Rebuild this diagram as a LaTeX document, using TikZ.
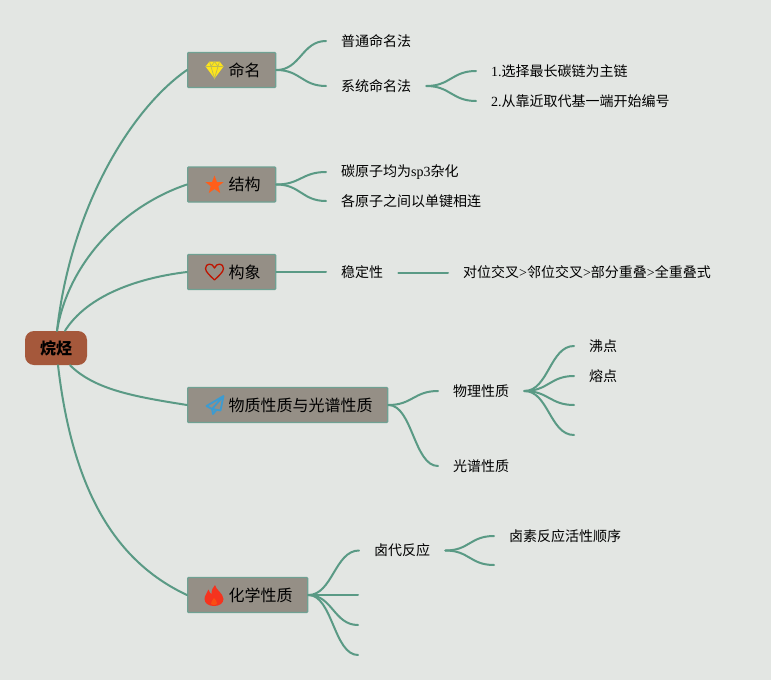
\documentclass[tikz,border=0pt]{standalone}
\usepackage{fontspec}
\setmainfont{Noto Sans CJK SC}
\newfontfamily\lat{Liberation Serif}
\definecolor{bgc}{HTML}{E3E6E3}
\definecolor{boxc}{HTML}{958F86}
\definecolor{edgec}{HTML}{6FA193}
\definecolor{linec}{HTML}{5A9A85}
\definecolor{rootc}{HTML}{A5583B}
\definecolor{planec}{HTML}{3D9BD0}
\definecolor{flamec}{HTML}{F5331E}
\tikzset{
  x=1pt,y=-1pt,
  rootbox/.style={fill=rootc,rounded corners=9pt,minimum width=62pt,minimum height=34pt,inner sep=0pt,font=\fontsize{16}{16}\selectfont\bfseries,text=black},
  mainbox/.style={draw=edgec,line width=1.4pt,fill=boxc,rounded corners=1pt,minimum height=35pt,inner xsep=15pt,inner ysep=0pt,anchor=west,font=\fontsize{16}{16}\selectfont,text=black},
  leaf/.style={anchor=west,inner xsep=15pt,inner ysep=0pt,font=\fontsize{14}{14}\selectfont,text=black},
  link/.style={draw=linec,line width=2pt,line cap=round},
}
\newcommand{\gap}{\hspace*{26pt}}
\newcommand{\fork}[2]{\draw[link] (#1.east) .. controls +(24,0) and +(-24,0) .. (#2);}
\begin{document}
\begin{tikzpicture}
\useasboundingbox[fill=bgc] (0,0) rectangle (771,680);
% root and main boxes
\node[rootbox] (root) at (56,348) {烷烃};
\node[mainbox] (ming) at (187,70) {\gap 命名};
\node[mainbox] (jie) at (187,184.5) {\gap 结构};
\node[mainbox] (gou) at (187,272) {\gap 构象};
\node[mainbox] (wu) at (187,405) {\gap 物质性质与光谱性质};
\node[mainbox] (hua) at (187,595) {\gap 化学性质};
% leaves
\node[leaf] (pt) at (326,41) {普通命名法};
\node[leaf] (xt) at (326,86) {系统命名法};
\node[leaf] (x1) at (476,71) {{\lat 1.}选择最长碳链为主链};
\node[leaf] (x2) at (476,101) {{\lat 2.}从靠近取代基一端开始编号};
\node[leaf] (tan) at (326,172) {碳原子均为{\lat sp3}杂化};
\node[leaf] (ge) at (326,201) {各原子之间以单键相连};
\node[leaf] (wd) at (326,272.5) {稳定性};
\node[leaf] (dw) at (448,272.5) {对位交叉{\lat >}邻位交叉{\lat >}部分重叠{\lat >}全重叠式};
\node[leaf] (wl) at (438,391) {物理性质};
\node[leaf] (gp) at (438,466) {光谱性质};
\node[leaf] (fei) at (574,346) {沸点};
\node[leaf] (rong) at (574,376) {熔点};
\coordinate (e1) at (574,405);
\coordinate (e2) at (574,435);
\node[leaf] (ld) at (359,550.5) {卤代反应};
\node[leaf] (ls) at (494,536) {卤素反应活性顺序};
\coordinate (e3) at (494,565);
\coordinate (e4) at (358,595);
\coordinate (e5) at (358,625);
\coordinate (e6) at (358,655);
% root links
\draw[link] ([xshift=1pt]root.north) .. controls +(14,-125) and +(-55,38) .. (ming.west);
\draw[link] ([xshift=1pt]root.north) .. controls +(12,-72) and +(-60,20) .. (jie.west);
\draw[link] ([xshift=9pt]root.north) .. controls +(22,-35) and +(-50,6) .. (gou.west);
\draw[link] ([xshift=14pt]root.south) .. controls +(25,25) and +(-50,-8) .. (wu.west);
\draw[link] ([xshift=2pt]root.south) .. controls +(14,120) and +(-75,-35) .. (hua.west);
% forks
\fork{ming}{pt.west}
\fork{ming}{xt.west}
\fork{xt}{x1.west}
\fork{xt}{x2.west}
\fork{jie}{tan.west}
\fork{jie}{ge.west}
\draw[link] (gou.east) -- (wd.west |- gou.east);
\draw[link] (wd.east) -- (dw.west);
\fork{wu}{wl.west}
\fork{wu}{gp.west}
\fork{wl}{fei.west}
\fork{wl}{rong.west}
\fork{wl}{e1}
\fork{wl}{e2}
\fork{ld}{ls.west}
\fork{ld}{e3}
\fork{hua}{ld.west}
\draw[link] (hua.east) -- (e4);
\fork{hua}{e5}
\fork{hua}{e6}
% icons
\begin{scope}[shift={(214.5,70)}]
  \fill[yellow!85!orange!90!white] (-5,-8.5) -- (5,-8.5) -- (9,-3.5) -- (0,8.5) -- (-9,-3.5) -- cycle;
  \draw[boxc!60!yellow,line width=.7pt] (-9,-3.5) -- (9,-3.5) (-5,-8.5) -- (-3.5,-3.5) -- (0,8.5) -- (3.5,-3.5) -- (5,-8.5) (-3.5,-3.5) -- (0,-8.5) -- (3.5,-3.5);
\end{scope}
\begin{scope}[shift={(214.5,185)}]
  \fill[orange!60!red!90!white] (0,-9.5) -- (2.4,-3) -- (9.2,-3) -- (3.8,1.2) -- (5.7,8) -- (0,4) -- (-5.7,8) -- (-3.8,1.2) -- (-9.2,-3) -- (-2.4,-3) -- cycle;
\end{scope}
\begin{scope}[shift={(214.5,272)}]
  \draw[red!70!black!85!orange,line width=1.3pt,line join=round] (0,8) .. controls (-4,4) and (-9,0) .. (-9,-3.5) .. controls (-9,-9) and (-2,-9.5) .. (0,-4) .. controls (2,-9.5) and (9,-9) .. (9,-3.5) .. controls (9,0) and (4,4) .. (0,8) -- cycle;
\end{scope}
\begin{scope}[shift={(215,405)}]
  \draw[planec,line width=1.8pt,line join=round] (8.5,-9) -- (-8.5,1) -- (-3,4) -- (5.5,5.5) -- cycle (8.5,-9) -- (-3,4) -- (-2,9) -- (1.5,4.8);
\end{scope}
\begin{scope}[shift={(214,596)}]
  \fill[flamec] (1,-11) .. controls (2,-6) and (9,-3) .. (9.5,3) .. controls (9.5,7.5) and (5,10) .. (0,10) .. controls (-5,10) and (-9.5,7.5) .. (-9.5,3) .. controls (-9.5,-1) and (-6.5,-3) .. (-5.5,-6.5) .. controls (-4.5,-3.5) and (-3.5,-2.5) .. (-2.5,-2) .. controls (-2.5,-6) and (-1,-9) .. (1,-11) -- cycle;
  \fill[orange!35!flamec] (0,2) .. controls (1,4) and (3.5,5) .. (3,7.5) .. controls (2.5,9.5) and (-2.5,9.5) .. (-3,7.5) .. controls (-3.5,5.5) and (-1,4.5) .. (0,2) -- cycle;
\end{scope}
\end{tikzpicture}
\end{document}
